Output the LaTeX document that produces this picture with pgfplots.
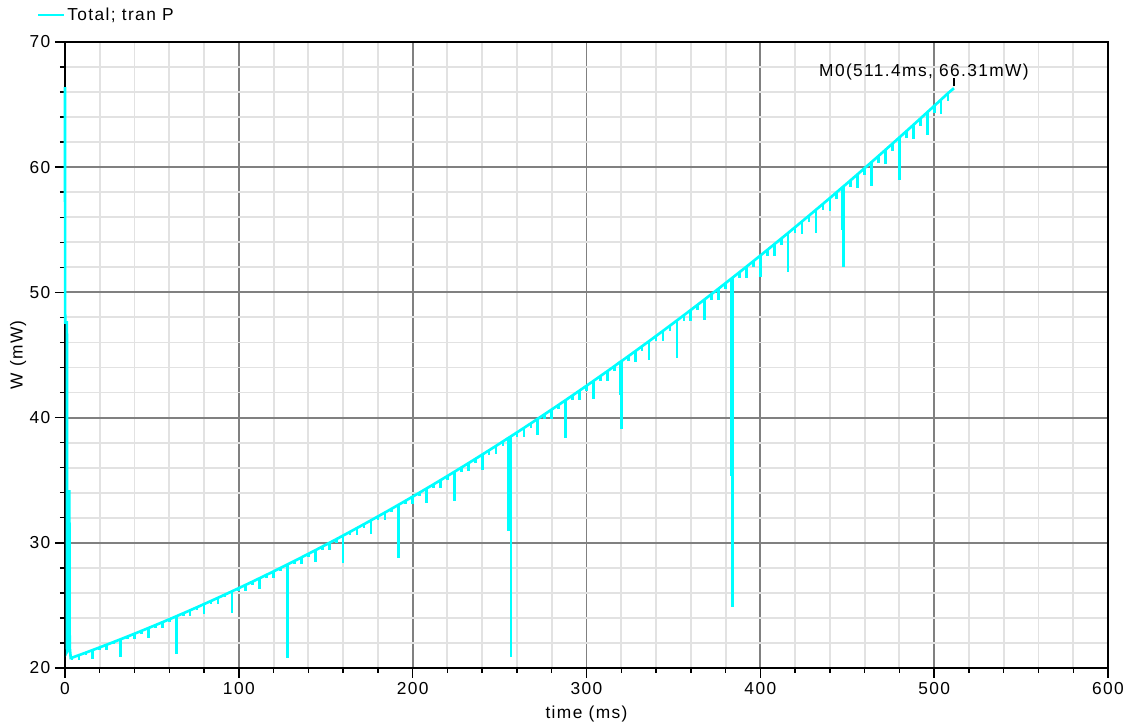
\documentclass[border=0pt]{standalone}
\usepackage{fontspec}
\setmainfont{Liberation Sans}[LetterSpace=8]
\usepackage{pgfplots}
\pgfplotsset{compat=1.18}
\usepackage{pgfplotstable}
\definecolor{trace}{RGB}{0,255,255}
\definecolor{gmaj}{RGB}{128,128,128}
\definecolor{gmin}{RGB}{226,226,226}
\pgfplotstableread{
x y d
4 20.821 0.19
8 21.024 0.38
12 21.229 0.19
16 21.438 0.71
20 21.648 0.19
24 21.861 0.39
28 22.077 0.20
32 22.295 1.40
36 22.515 0.20
40 22.738 0.41
44 22.964 0.21
48 23.192 0.77
52 23.422 0.21
56 23.655 0.43
60 23.890 0.22
64 24.128 3.03
68 24.368 0.22
72 24.611 0.44
76 24.856 0.22
80 25.104 0.83
84 25.354 0.23
88 25.607 0.46
92 25.862 0.23
96 26.120 1.72
100 26.380 0.24
104 26.642 0.48
108 26.907 0.24
112 27.175 0.90
116 27.445 0.25
120 27.717 0.50
124 27.992 0.25
128 28.270 7.47
132 28.549 0.26
136 28.832 0.52
140 29.117 0.26
144 29.404 0.97
148 29.694 0.27
152 29.986 0.54
156 30.281 0.27
160 30.578 2.18
164 30.878 0.28
168 31.180 0.56
172 31.485 0.28
176 31.792 1.05
180 32.101 0.29
184 32.413 0.58
188 32.728 0.29
192 33.045 4.25
196 33.365 0.30
200 33.686 0.61
204 34.011 0.31
208 34.338 1.13
212 34.667 0.31
216 34.999 0.63
220 35.333 0.32
224 35.670 2.37
228 36.010 0.32
232 36.351 0.65
236 36.695 0.33
240 37.042 1.22
244 37.392 0.34
248 37.743 0.68
252 38.098 0.34
255 38.37 7.40
256.5 38.50 17.60
260 38.813 0.35
264 39.175 0.71
268 39.539 0.36
272 39.905 1.32
276 40.274 0.36
280 40.646 0.73
284 41.020 0.37
288 41.396 3.00
292 41.775 0.38
296 42.157 0.76
300 42.540 0.38
304 42.927 1.42
308 43.316 0.39
312 43.707 0.79
316 44.101 0.40
319.4 44.45 2.65
320 44.497 5.43
324 44.896 0.40
328 45.297 0.82
332 45.701 0.41
336 46.107 1.52
340 46.515 0.42
344 46.926 0.84
348 47.340 0.43
352 47.756 2.96
356 48.174 0.43
360 48.596 0.87
364 49.019 0.44
368 49.445 1.63
372 49.873 0.45
376 50.304 0.91
380 50.738 0.46
383.3 51.10 15.80
384 51.173 26.27
388 51.612 0.46
392 52.052 0.94
396 52.496 0.47
400 52.942 1.75
404 53.390 0.48
408 53.841 0.97
412 54.294 0.49
416 54.749 3.15
420 55.208 0.50
424 55.668 1.00
428 56.131 0.51
432 56.597 1.87
436 57.065 0.51
440 57.535 1.04
444 58.008 0.52
447.4 58.42 3.40
448 58.484 6.48
452 58.962 0.53
456 59.442 1.07
460 59.925 0.54
464 60.410 1.90
468 60.898 0.55
472 61.388 1.11
476 61.881 0.56
480 62.376 3.38
484 62.874 0.57
488 63.374 1.14
492 63.877 0.57
496 64.383 1.80
500 64.890 0.58
504 65.400 1.18
508 65.913 0.59
511.4 66.31 0
}\dips
\begin{document}
\begin{tikzpicture}[font=\fontsize{13}{15}\selectfont]
\path (-48.75pt,-44.25pt) rectangle (798pt,501pt);
\begin{axis}[
  at={(0pt,0pt)}, anchor=south west,
  scale only axis, width=782.25pt, height=469.5pt,
  xmin=0, xmax=600, ymin=20, ymax=70,
  xtick={0,100,...,600}, ytick={20,30,...,70},
  minor x tick num=4, minor y tick num=4,
  grid=both,
  major grid style={gmaj, line width=1.4pt},
  minor grid style={gmin, line width=1.4pt},
  axis line style={black, line width=1.5pt},
  tick align=outside, tick pos=left,
  major tick length=7.5pt, minor tick length=3.75pt,
  every tick/.append style={black, line width=1.1pt},
  /pgf/number format/assume math mode=true,
  xlabel={time (ms)}, ylabel={W (mW)},
  xlabel style={at={(axis description cs:0.5,-0.073)}, anchor=center},
  ylabel style={at={(axis description cs:-0.045,0.5)}, anchor=center},
  clip=false,
  legend style={at={(axis description cs:-0.0268,1.0431)}, anchor=west, draw=none, fill=none, inner sep=0pt},
  legend cell align=left,
  legend image code/.code={\path (0pt,0pt) -- (19pt,0pt); \draw[#1] (0pt,0pt) -- (15pt,0pt);},
]
\addlegendimage{trace, line width=1.5pt}
\addlegendentry{Total; tran P}
\addplot[trace, line width=2pt, forget plot] coordinates {(0,66.4) (0.1,47.6) (1.1,47.6) (1.2,21.3) (2.4,21.6) (2.5,34.2) (2.7,21.7) (3.3,20.8) (4,20.821)};
\addplot[trace, line width=2pt, forget plot,
  error bars/.cd, y dir=minus, y explicit, error mark=none,
  error bar style={draw=trace, line width=2pt}]
  table[x=x, y=y, y error minus=d] {\dips};
\addplot[black, line width=0.8pt, forget plot] coordinates {(511.4,66.45) (511.4,67.15)};
\node[anchor=center, xshift=-22.5pt, yshift=12pt] at (axis cs:511.4,66.31) {M0(511.4ms, 66.31mW)};
\end{axis}
\end{tikzpicture}
\end{document}
